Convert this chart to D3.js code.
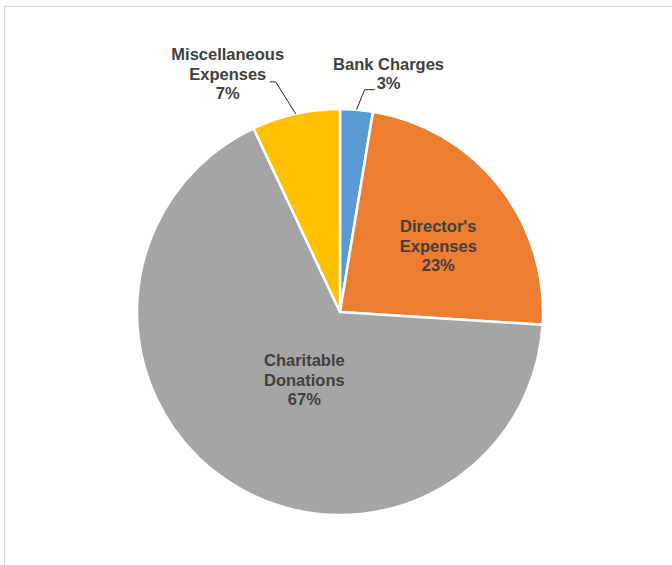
<!DOCTYPE html>
<html lang="en">
<head>
    <meta charset="UTF-8">
    <title>Expenses Pie</title>
    <style>
        body {
            margin: 0;
            background: #fff;
        }
        svg {
            display: block;
            font-family: "Liberation Sans", Arial, sans-serif;
        }
    </style>
    <script src="https://d3js.org/d3.v7.min.js"></script>
</head>
<body>
<script>
    // data (share of total, %)
    const categories = ["Bank Charges", "Director's Expenses", "Charitable Donations", "Miscellaneous Expenses"]
    const values = [2.6, 23.4, 67.0, 7.0]
    const labelLines = [
        ["Bank Charges"],
        ["Director's", "Expenses"],
        ["Charitable", "Donations"],
        ["Miscellaneous", "Expenses"]
    ]
    const colors = ["#5B9BD5", "#ED7D31", "#A5A5A5", "#FFC000"]

    const width = 672, height = 565
    const cx = 340, cy = 312, radius = 203
    const lineH = 19.5

    // label placement: inside labels sit at radius factor + shift,
    // outside ones get a leader line (elbow and end relative to arc point)
    const labelLayout = [
        {outside: true, shift: [32, -36], elbow: [8, -20], end: [18, -20]},
        {outside: false, rf: 0.6, shift: [3, 10]},
        {outside: false, rf: 0.4, shift: [10, 1]},
        {outside: true, shift: [-68, -40], elbow: [-20, -32], end: [-26, -32]}
    ]

    const svg = d3.select("body").append("svg")
        .attr("width", width)
        .attr("height", height)

    // chart frame (only top & left edges show in the picture)
    svg.append("rect")
        .attr("x", 4.5).attr("y", 6.5)
        .attr("width", 800).attr("height", 800)
        .attr("fill", "none")
        .attr("stroke", "#d9d9d9")
        .attr("stroke-width", 1)

    const data = categories.map((c, i) => ({name: c, value: values[i], lines: labelLines[i], color: colors[i], lay: labelLayout[i]}))

    const pie = d3.pie().value(d => d.value).sort(null)
    const arc = d3.arc().innerRadius(0).outerRadius(radius)
    const arcs = pie(data)

    const g = svg.append("g").attr("transform", `translate(${cx},${cy})`)

    g.selectAll("path.slice")
        .data(arcs)
        .enter()
        .append("path")
        .attr("class", "slice")
        .attr("d", arc)
        .attr("fill", d => d.data.color)
        .attr("stroke", "#fff")
        .attr("stroke-width", 2.5)
        .attr("stroke-linejoin", "round")

    const pct = d => Math.round(d.data.value) + "%"

    arcs.forEach(d => {
        const mid = (d.startAngle + d.endAngle) / 2
        const lay = d.data.lay
        let px, py
        if (lay.outside) {
            const ax = radius * Math.sin(mid), ay = -radius * Math.cos(mid)
            px = ax + lay.shift[0]
            py = ay + lay.shift[1]
            g.append("polyline")
                .attr("points", [[ax, ay], [ax + lay.elbow[0], ay + lay.elbow[1]], [ax + lay.end[0], ay + lay.end[1]]].join(" "))
                .attr("fill", "none")
                .attr("stroke", "#262626")
                .attr("stroke-width", 1)
        } else {
            const rr = radius * lay.rf
            px = rr * Math.sin(mid) + lay.shift[0]
            py = -rr * Math.cos(mid) + lay.shift[1]
        }
        const lines = d.data.lines.concat([pct(d)])
        const top = py - (lines.length - 1) * lineH / 2
        const t = g.append("text")
            .attr("text-anchor", "middle")
            .attr("font-size", "16.5px")
            .attr("font-weight", "bold")
            .attr("fill", "#404040")
        lines.forEach((ln, i) => {
            t.append("tspan")
                .attr("x", px)
                .attr("y", top + i * lineH)
                .attr("dy", "0.35em")
                .text(ln)
        })
    })
</script>
</body>
</html>
